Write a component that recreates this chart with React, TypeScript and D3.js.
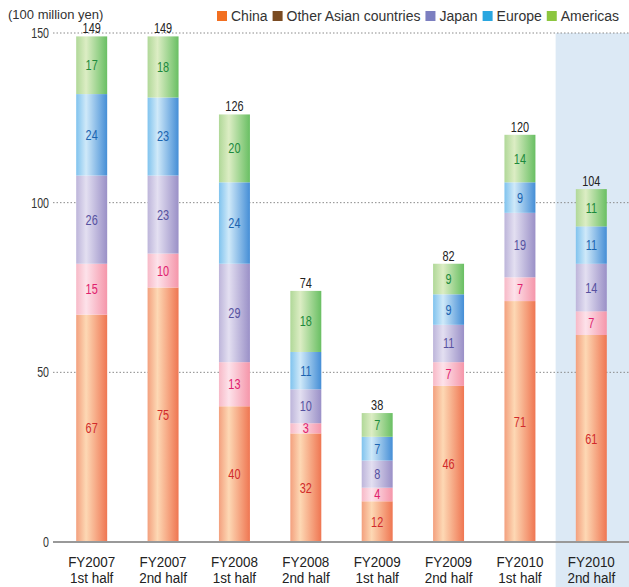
import React, { useEffect, useRef } from "react";
import * as d3 from "d3";

// fiscal half-years on the x axis (two lines each)
const periods = ["FY2007|1st half", "FY2007|2nd half", "FY2008|1st half", "FY2008|2nd half", "FY2009|1st half", "FY2009|2nd half", "FY2010|1st half", "FY2010|2nd half"];

// values in 100 million yen, bottom to top
const china = [67, 75, 40, 32, 12, 46, 71, 61];
const otherAsia = [15, 10, 13, 3, 4, 7, 7, 7];
const japan = [26, 23, 29, 10, 8, 11, 19, 14];
const europe = [24, 23, 24, 11, 7, 9, 9, 11];
const americas = [17, 18, 20, 18, 7, 9, 14, 11];

const seriesNames = ["China", "Other Asian countries", "Japan", "Europe", "Americas"];
const yTicks = [0, 50, 100, 150];

// legend swatch, bar gradient (left, light, right), label colour
const legendColors = ["#f26f21", "#7a4b22", "#7c7fc0", "#29a6e0", "#8cc63f"];
const gradStops = [
  ["#f3a07e", "#fdd8b4", "#ef7652"],
  ["#f7b9c7", "#fde2ea", "#f596aa"],
  ["#bdb5da", "#e3dff1", "#9a90c7"],
  ["#80c3ee", "#cfe9f9", "#458ed6"],
  ["#b0d898", "#dcedc4", "#69bf63"],
];
const labelColors = ["#d12a2a", "#e0206e", "#5651a0", "#1b64b0", "#1d8a3c"];

function App() {
  const svgRef = useRef<SVGSVGElement>(null);

  useEffect(() => {
    const width = 629;
    const height = 587;
    const font = "'Liberation Sans', Arial, Helvetica, sans-serif";

    const svg = d3.select(svgRef.current);
    svg.selectAll("*").remove();
    svg.attr("width", width).attr("height", height).attr("viewBox", `0 0 ${width} ${height}`);

    const data = periods.map((p, i) => ({
      period: p,
      s0: china[i],
      s1: otherAsia[i],
      s2: japan[i],
      s3: europe[i],
      s4: americas[i],
    }));
    const keys = ["s0", "s1", "s2", "s3", "s4"];
    const stacked = d3.stack<any>().keys(keys)(data);

    const x = d3
      .scaleBand()
      .domain(periods)
      .range([56, 627])
      .paddingInner(0.566)
      .paddingOuter(0.283);
    const y = d3.scaleLinear().domain([0, 150]).range([542, 33]);

    const defs = svg.append("defs");
    gradStops.forEach((stops, k) => {
      const g = defs.append("linearGradient").attr("id", `grad${k}`).attr("x1", 0).attr("x2", 1).attr("y1", 0).attr("y2", 0);
      g.append("stop").attr("offset", "0%").attr("stop-color", stops[0]);
      g.append("stop").attr("offset", "32%").attr("stop-color", stops[1]);
      g.append("stop").attr("offset", "100%").attr("stop-color", stops[2]);
    });

    // highlighted latest period
    const last = periods[periods.length - 1];
    const bandLeft = x(last)! - (x.step() - x.bandwidth()) / 2;
    svg
      .append("rect")
      .attr("x", bandLeft)
      .attr("y", y(150))
      .attr("width", width - bandLeft)
      .attr("height", height - y(150))
      .attr("fill", "#dce9f5");

    // dotted grid + tick labels
    const grid = svg.append("g");
    yTicks.forEach((t) => {
      if (t > 0) {
        grid
          .append("line")
          .attr("x1", 53)
          .attr("x2", width)
          .attr("y1", y(t))
          .attr("y2", y(t))
          .attr("stroke", "#8a8a8a")
          .attr("stroke-width", 1)
          .attr("stroke-dasharray", "1.5,2");
      }
      grid
        .append("text")
        .attr("transform", `translate(49,${y(t) + 5}) scale(0.76,1)`)
        .attr("text-anchor", "end")
        .attr("font-family", font)
        .attr("font-size", 14)
        .attr("fill", "#333")
        .text(t);
    });

    // bars
    const bars = svg.append("g");
    stacked.forEach((layer, k) => {
      const g = bars.append("g");
      g.selectAll("rect")
        .data(layer)
        .join("rect")
        .attr("x", (d: any) => x(d.data.period)!)
        .attr("y", (d) => y(d[1]))
        .attr("width", x.bandwidth())
        .attr("height", (d) => y(d[0]) - y(d[1]))
        .attr("fill", `url(#grad${k})`);
      g.selectAll("text")
        .data(layer)
        .join("text")
        .attr("transform", (d: any) => `translate(${x(d.data.period)! + x.bandwidth() / 2},${(y(d[0]) + y(d[1])) / 2 + 5}) scale(0.78,1)`)
        .attr("text-anchor", "middle")
        .attr("font-family", font)
        .attr("font-size", 14)
        .attr("fill", labelColors[k])
        .text((d) => d[1] - d[0]);
    });

    // totals
    const top = stacked[stacked.length - 1];
    svg
      .append("g")
      .selectAll("text")
      .data(top)
      .join("text")
      .attr("transform", (d: any) => `translate(${x(d.data.period)! + x.bandwidth() / 2},${y(d[1]) - 3}) scale(0.78,1)`)
      .attr("text-anchor", "middle")
      .attr("font-family", font)
      .attr("font-size", 14)
      .attr("fill", "#222")
      .text((d) => d[1]);

    // baseline
    svg
      .append("line")
      .attr("x1", 53)
      .attr("x2", width)
      .attr("y1", y(0))
      .attr("y2", y(0))
      .attr("stroke", "#999")
      .attr("stroke-width", 2);

    // x labels
    const xl = svg.append("g");
    periods.forEach((p) => {
      const [a, b] = p.split("|");
      const cx = x(p)! + x.bandwidth() / 2;
      xl.append("text")
        .attr("transform", `translate(${cx},567) scale(0.96,1)`)
        .attr("text-anchor", "middle")
        .attr("font-family", font)
        .attr("font-size", 14)
        .attr("fill", "#222")
        .text(a);
      xl.append("text")
        .attr("transform", `translate(${cx},583) scale(0.96,1)`)
        .attr("text-anchor", "middle")
        .attr("font-family", font)
        .attr("font-size", 14)
        .attr("fill", "#222")
        .text(b);
    });

    // unit
    svg
      .append("text")
      .attr("x", 8)
      .attr("y", 19)
      .attr("font-family", font)
      .attr("font-size", 13)
      .attr("fill", "#333")
      .text("(100 million yen)");

    // legend, laid out by measured text width
    const legend = svg.append("g");
    let lx = 217;
    seriesNames.forEach((name, k) => {
      legend.append("rect").attr("x", lx).attr("y", 11).attr("width", 10).attr("height", 10).attr("fill", legendColors[k]);
      const t = legend
        .append("text")
        .attr("x", lx + 14)
        .attr("y", 21)
        .attr("font-family", font)
        .attr("font-size", 14)
        .attr("fill", "#333")
        .text(name);
      const w = (t.node() as SVGTextElement).getComputedTextLength();
      lx += 14 + w + 5;
    });
  }, []);

  return <svg ref={svgRef} style={{ position: "absolute", left: 0, top: 0, display: "block" }} />;
}

export default App;
